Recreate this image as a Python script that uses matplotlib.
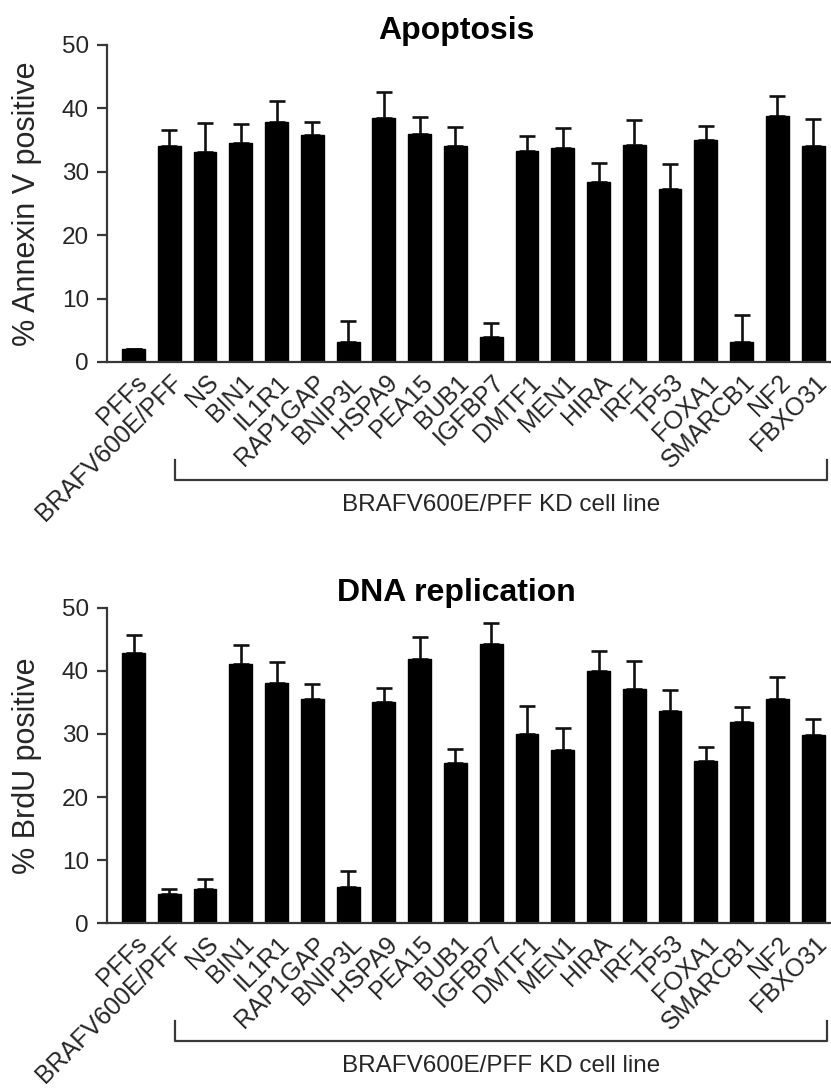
import numpy as np
import matplotlib.pyplot as plt
from matplotlib.transforms import blended_transform_factory, ScaledTranslation

plt.rcParams['font.family'] = ['Liberation Sans', 'DejaVu Sans']

cell_lines = ['PFFs', 'BRAFV600E/PFF', 'NS', 'BIN1', 'IL1R1', 'RAP1GAP', 'BNIP3L',
              'HSPA9', 'PEA15', 'BUB1', 'IGFBP7', 'DMTF1', 'MEN1', 'HIRA', 'IRF1',
              'TP53', 'FOXA1', 'SMARCB1', 'NF2', 'FBXO31']

# % Annexin V positive (apoptosis)
annexin_mean = [2.1, 34.0, 33.1, 34.5, 37.9, 35.8, 3.1, 38.5, 35.9, 34.1,
                3.9, 33.3, 33.8, 28.4, 34.3, 27.3, 35.0, 3.1, 38.8, 34.1]
annexin_err = [0.0, 2.6, 4.6, 3.0, 3.3, 2.1, 3.3, 4.1, 2.8, 3.0,
               2.3, 2.3, 3.1, 3.0, 3.8, 3.9, 2.2, 4.3, 3.2, 4.3]

# % BrdU positive (DNA replication)
brdu_mean = [42.8, 4.7, 5.4, 41.1, 38.1, 35.5, 5.8, 35.0, 41.9, 25.4,
             44.2, 30.0, 27.5, 40.0, 37.1, 33.6, 25.7, 31.9, 35.6, 29.9]
brdu_err = [2.9, 0.7, 1.6, 3.0, 3.3, 2.4, 2.5, 2.3, 3.5, 2.2,
            3.3, 4.5, 3.5, 3.1, 4.4, 3.3, 2.2, 2.3, 3.5, 2.5]

text_col = '#262626'
line_col = '#383838'


def panel(ax, means, errs, title, ylabel):
    x = np.arange(len(cell_lines))
    ax.bar(x, means, width=0.64, color='black', edgecolor='black', zorder=2)
    ax.errorbar(x, means, yerr=[np.zeros(len(errs)), errs], fmt='none',
                ecolor='#111111', elinewidth=1.9, capsize=5.5, capthick=1.9, zorder=1)
    ax.set_xlim(-0.74, 19.5)
    ax.set_ylim(0, 50)
    ax.set_yticks([0, 10, 20, 30, 40, 50])
    ax.spines['top'].set_visible(False)
    ax.spines['right'].set_visible(False)
    for s in ['left', 'bottom']:
        ax.spines[s].set_linewidth(1.6)
        ax.spines[s].set_color(line_col)
    ax.tick_params(axis='y', length=7, width=1.6, color=line_col, pad=6,
                   labelsize=17.5, labelcolor=text_col)
    ax.set_xticks(x)
    ax.set_xticklabels(cell_lines, rotation=45, ha='right', va='top',
                       rotation_mode='anchor', fontsize=18, color=text_col)
    ax.tick_params(axis='x', length=0, pad=6)
    for lab in ax.get_xticklabels():
        lab.set_transform(lab.get_transform() + ScaledTranslation(0.01, 0, ax.figure.dpi_scale_trans))
    ax.set_ylabel(ylabel, fontsize=22, color=text_col)
    ax.yaxis.set_label_coords(-0.09, 0.5)
    ax.text(0.482, 1.02, title, transform=ax.transAxes, ha='center', va='baseline',
            fontsize=23, fontweight='bold', color='black')
    # bracket under the KD cell lines
    tr = blended_transform_factory(ax.transData, ax.transAxes)
    ax.plot([1.16, 1.16, 19.4, 19.4], [-0.31, -0.373, -0.373, -0.31], color=line_col,
            lw=1.6, transform=tr, clip_on=False)
    ax.text((1.16 + 19.4) / 2, -0.45, 'BRAFV600E/PFF KD cell line', transform=tr,
            ha='center', va='center', fontsize=17.5, color=text_col)


fig = plt.figure(figsize=(8.31, 10.89), dpi=100)
ax1 = fig.add_axes([0.1288, 0.6676, 0.8712, 0.2911])
ax2 = fig.add_axes([0.1288, 0.152, 0.8712, 0.29])

panel(ax1, annexin_mean, annexin_err, 'Apoptosis', '% Annexin V positive')
panel(ax2, brdu_mean, brdu_err, 'DNA replication', '% BrdU positive')

fig.savefig('out.png', dpi=100)
